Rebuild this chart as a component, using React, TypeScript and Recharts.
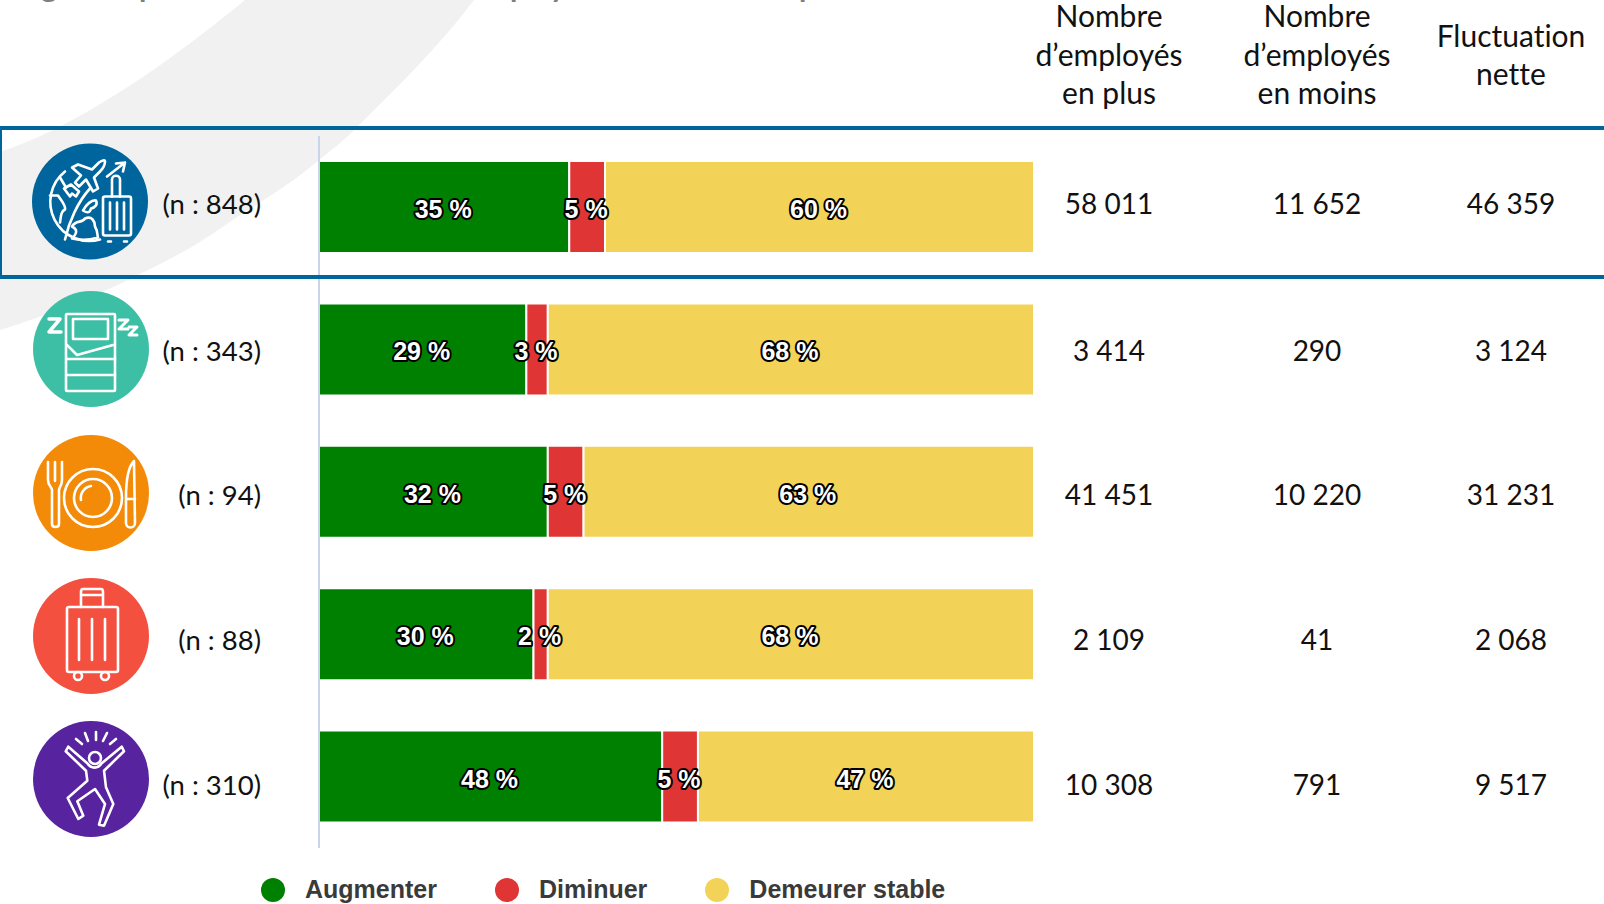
import { BarChart, Bar, XAxis, YAxis, LabelList, Legend } from "recharts";

const categories = ["Tourisme", "Hébergement", "Restauration", "Voyages", "Loisirs"];
const sampleSizes = ["(n : 848)", "(n : 343)", "(n : 94)", "(n : 88)", "(n : 310)"];
const increase = [35, 29, 32, 30, 48];
const decrease = [5, 3, 5, 2, 5];
const stable = [60, 68, 63, 68, 47];
const employeesMore = ["58 011", "3 414", "41 451", "2 109", "10 308"];
const employeesLess = ["11 652", "290", "10 220", "41", "791"];
const netChange = ["46 359", "3 124", "31 231", "2 068", "9 517"];

const tableData = categories.map((name, i) => ({
  name,
  increase: increase[i],
  decrease: decrease[i],
  stable: stable[i],
}));

// row layout, in page pixels
const ICON_X = [90, 91, 91, 91, 91];
const ICON_Y = [201.5, 349, 493, 636, 779];
const TEXT_Y = [204, 351, 495, 640, 785];
const COLUMN_X = [1109, 1317, 1511];

const BODY_FONT = "Lato, sans-serif";
const BAR_FONT = '"Liberation Sans", Arial, sans-serif';

const ICON_COLORS = ["#00659c", "#3dbfa6", "#f38a08", "#f4503f", "#57239f"];

const GlobeIcon = () => (
  <g>
    <path d="M -25 -30 A 39 39 0 0 0 10 38" />
    <path d="M 0 -13 C -12 0 -21 20 -25 38" />
    <path d="M -26 -13 L -19 -17 L -11 -10 L -14 -5 L -18 -8 L -20 -5 Z" />
    <path d="M -18 -34 L -12 -37 L 2 -32 L 9 -39 C 12 -41 15 -42 15 -40 C 15 -37 13 -33 10 -30 L 4 -24 L 8 -13 L 3 -10 L -4 -22 L -11 -15 L -15 -19 L -9 -26 Z" />
    <path d="M 17 -25 L 35 -39 M 26 -38 L 35 -39 L 33 -30" />
    <path d="M -40 -6 L -32 -6 C -28 0 -24 4 -25 8 C -29 10 -29 14 -30 21" />
    <path d="M -30 -24 L -24 -14" />
    <path d="M -7 9 C -4 3 2 -2 6 -1 C 8 3 5 6 1 7 C 0 11 -2 12 -7 9 Z" />
    <path d="M -18 25 C -14 18 -8 22 -5 17 C 2 14 5 20 5 25 C 8 30 7 33 8 36 C -1 39 -10 39 -18 37 C -13 32 -12 28 -18 25 Z" />
    <rect x={13} y={-5} width={28} height={39} rx={2} />
    <path d="M 22 -5 L 22 -22 C 22 -27 30 -27 30 -22 L 30 -5" />
    <path d="M 20 1 L 20 28 M 27 1 L 27 28 M 34 1 L 34 28" />
    <path d="M 18 40 L 21 40 M 34 40 L 37 40" />
  </g>
);

const BedIcon = () => (
  <g>
    <rect x={-25} y={-35} width={49} height={77} rx={1} />
    <rect x={-18} y={-30} width={35} height={20} />
    <path d="M -24 -4 L -14 6 L 22 -4 M -24 10 L 24 10 M -24 26 L 24 26" />
    <path d="M -42 -30 L -31 -30 L -42 -17 L -30 -17" strokeWidth={3.5} />
    <path d="M 28 -29 L 37 -29 L 28 -20 L 37 -20" strokeWidth={3} />
    <path d="M 38 -22 L 46 -22 L 38 -14 L 46 -14" strokeWidth={3} />
  </g>
);

const PlateIcon = () => (
  <g>
    <circle cx={2} cy={5} r={29} />
    <circle cx={2} cy={5} r={19} />
    <path d="M -10 7 A 12 12 0 0 1 0 -7" />
    <path d="M -43 -31 L -43 -13 C -43 -7 -39 -6 -39 -3 L -39 31 C -39 35 -32 35 -32 31 L -32 -3 C -32 -6 -29 -7 -29 -13 L -29 -31 M -36 -31 L -36 -12" />
    <path d="M 43 -32 C 37 -26 35 -12 35 5 L 35 30 C 35 36 44 36 44 30 Z M 35 6 L 44 6" />
  </g>
);

const SuitcaseIcon = () => (
  <g>
    <rect x={-24} y={-29} width={51} height={65} rx={2} />
    <path d="M -10 -29 L -10 -44 C -10 -46 -9 -47 -8 -47 L 10 -47 C 11 -47 12 -46 12 -44 L 12 -29 M -10 -41 L 12 -41" />
    <path d="M -12 -17 L -12 24 M 1 -17 L 1 24 M 14 -17 L 14 24" />
    <circle cx={-13} cy={40} r={4} />
    <circle cx={14} cy={40} r={4} />
  </g>
);

const DancerIcon = () => (
  <g>
    <circle cx={4} cy={-21} r={6} />
    <path d="M -15 -40 L -9 -35 M -6 -46 L -3 -38 M 5 -47 L 5 -39 M 16 -46 L 12 -38 M 25 -40 L 19 -35" />
    <path d="M -22.7 -32.3 L -3.7 -15.7 C 0 -10 7 -10 10.7 -15.7 L 30.7 -32.3 L 33 -27.7 L 13 -8.3 L 15 8.3 L 22.3 25 L 13 46.7 L 8 45.7 L 14 25 L 4 10 L -13.7 22.3 L -7.7 36.7 L -12.7 40 L -23.3 19 L -3.7 1.7 L -5 -8.3 L -25.3 -27.7 Z" />
  </g>
);

const ICONS = [GlobeIcon, BedIcon, PlateIcon, SuitcaseIcon, DancerIcon];

// Left axis tick: round icon and sample size, plus the three figures on the right of the bars
function RowTick({ payload }: any) {
  const i = payload.index;
  const Icon = ICONS[i];
  const textStyle = { fontFamily: BODY_FONT, fontSize: 28, fill: "#111" };
  return (
    <g>
      <circle cx={ICON_X[i]} cy={ICON_Y[i]} r={58} fill={ICON_COLORS[i]} />
      <g
        transform={`translate(${ICON_X[i]} ${ICON_Y[i]})`}
        fill="none"
        stroke="#fff"
        strokeWidth={2.6}
        strokeLinecap="round"
        strokeLinejoin="round"
      >
        <Icon />
      </g>
      <text x={261} y={TEXT_Y[i]} dy="0.36em" textAnchor="end" style={{ ...textStyle, fontSize: 27.5 }}>
        {sampleSizes[i]}
      </text>
      {[employeesMore, employeesLess, netChange].map((col, c) => (
        <text key={c} x={COLUMN_X[c]} y={TEXT_Y[i]} dy="0.36em" textAnchor="middle" style={textStyle}>
          {col[i]}
        </text>
      ))}
    </g>
  );
}

function LegendRow({ payload }: any) {
  return (
    <div style={{ display: "flex", alignItems: "center", fontFamily: BAR_FONT, fontWeight: 700, fontSize: 25, color: "#3a3a3a" }}>
      {payload.map((entry: any) => (
        <div key={entry.value} style={{ display: "flex", alignItems: "center", marginRight: 58 }}>
          <span style={{ width: 24, height: 24, borderRadius: 12, background: entry.color, marginRight: 20 }} />
          {entry.value}
        </div>
      ))}
    </div>
  );
}

// Outlined value inside a segment, never wrapped to the segment's width
function PercentLabel({ x, y, width, height, value }: any) {
  return (
    <text
      x={x + width / 2 - 1}
      y={y + height / 2 + 2}
      dy="0.36em"
      textAnchor="middle"
      style={{
        fontFamily: BAR_FONT,
        fontWeight: 700,
        fontSize: 25,
        fill: "#fff",
        stroke: "#000",
        strokeWidth: 4,
        strokeLinejoin: "round",
        paintOrder: "stroke",
      }}
    >
      {`${value} %`}
    </text>
  );
}

export default function App() {
  return (
    <div style={{ position: "fixed", left: 0, top: 0, width: 1604, height: 904, background: "#fff", overflow: "hidden" }}>
      {/* backdrop swoosh */}
      <svg width={1604} height={904} style={{ position: "absolute", left: 0, top: 0 }}>
        <path
          d="M 245 0 C 190 45 130 90 63 125 C 42 136 20 145 0 152 L 0 330 C 45 316 88 300 128 280 C 160 264 190 250 221 228 C 255 205 290 185 319 160 C 335 147 345 140 358 126 C 400 85 440 45 474 0 Z"
          fill="#f1f1f1"
        />
      </svg>
      <div style={{ position: "absolute", left: 0, top: 0 }}>
        <BarChart
          width={1604}
          height={904}
          data={tableData}
          layout="vertical"
          barCategoryGap={0}
          margin={{ top: 136, right: 570, bottom: 26, left: 0 }}
        >
          <XAxis type="number" domain={[0, 100]} hide />
          <YAxis
            type="category"
            dataKey="name"
            width={319}
            interval={0}
            axisLine={{ stroke: "#c9d3ea", strokeWidth: 2 }}
            tickLine={false}
            tick={<RowTick />}
          />
          <Legend
            verticalAlign="bottom"
            height={30}
            itemSorter={null}
            content={<LegendRow />}
            wrapperStyle={{ left: 261, top: 875, width: 900, bottom: "auto" }}
          />
          <Bar dataKey="increase" name="Augmenter" stackId="a" barSize={92} fill="#008000" stroke="#fff" strokeWidth={2} isAnimationActive={false}>
            <LabelList dataKey="increase" content={PercentLabel} />
          </Bar>
          <Bar dataKey="decrease" name="Diminuer" stackId="a" barSize={92} fill="#e03535" stroke="#fff" strokeWidth={2} isAnimationActive={false}>
            <LabelList dataKey="decrease" content={PercentLabel} />
          </Bar>
          <Bar dataKey="stable" name="Demeurer stable" stackId="a" barSize={92} fill="#f3d357" stroke="#fff" strokeWidth={2} isAnimationActive={false}>
            <LabelList dataKey="stable" content={PercentLabel} />
          </Bar>
        </BarChart>
      </div>
      {/* highlighted first row, column headings and the foot of the clipped title */}
      <svg width={1604} height={904} style={{ position: "absolute", left: 0, top: 0, pointerEvents: "none" }}>
        <rect x={0} y={128} width={1640} height={149} fill="none" stroke="#00659c" strokeWidth={4} />
        <g style={{ fontFamily: BODY_FONT, fontWeight: 700, fontSize: 30, fill: "#7f7f7f" }}>
          <text x={41} y={-3}>g</text>
          <text x={139} y={-3}>p</text>
          <text x={510} y={-3}>p</text>
          <text x={550} y={-3}>y</text>
          <text x={799} y={-3}>p</text>
        </g>
        <g style={{ fontFamily: BODY_FONT, fontSize: 30, fill: "#111", fontVariantLigatures: "none" }} textAnchor="middle">
          <text x={COLUMN_X[0]} y={27}>Nombre</text>
          <text x={COLUMN_X[0]} y={66}>d’employés</text>
          <text x={COLUMN_X[0]} y={104}>en plus</text>
          <text x={COLUMN_X[1]} y={27}>Nombre</text>
          <text x={COLUMN_X[1]} y={66}>d’employés</text>
          <text x={COLUMN_X[1]} y={104}>en moins</text>
          <text x={COLUMN_X[2]} y={47}>Fluctuation</text>
          <text x={COLUMN_X[2]} y={85}>nette</text>
        </g>
      </svg>
    </div>
  );
}
